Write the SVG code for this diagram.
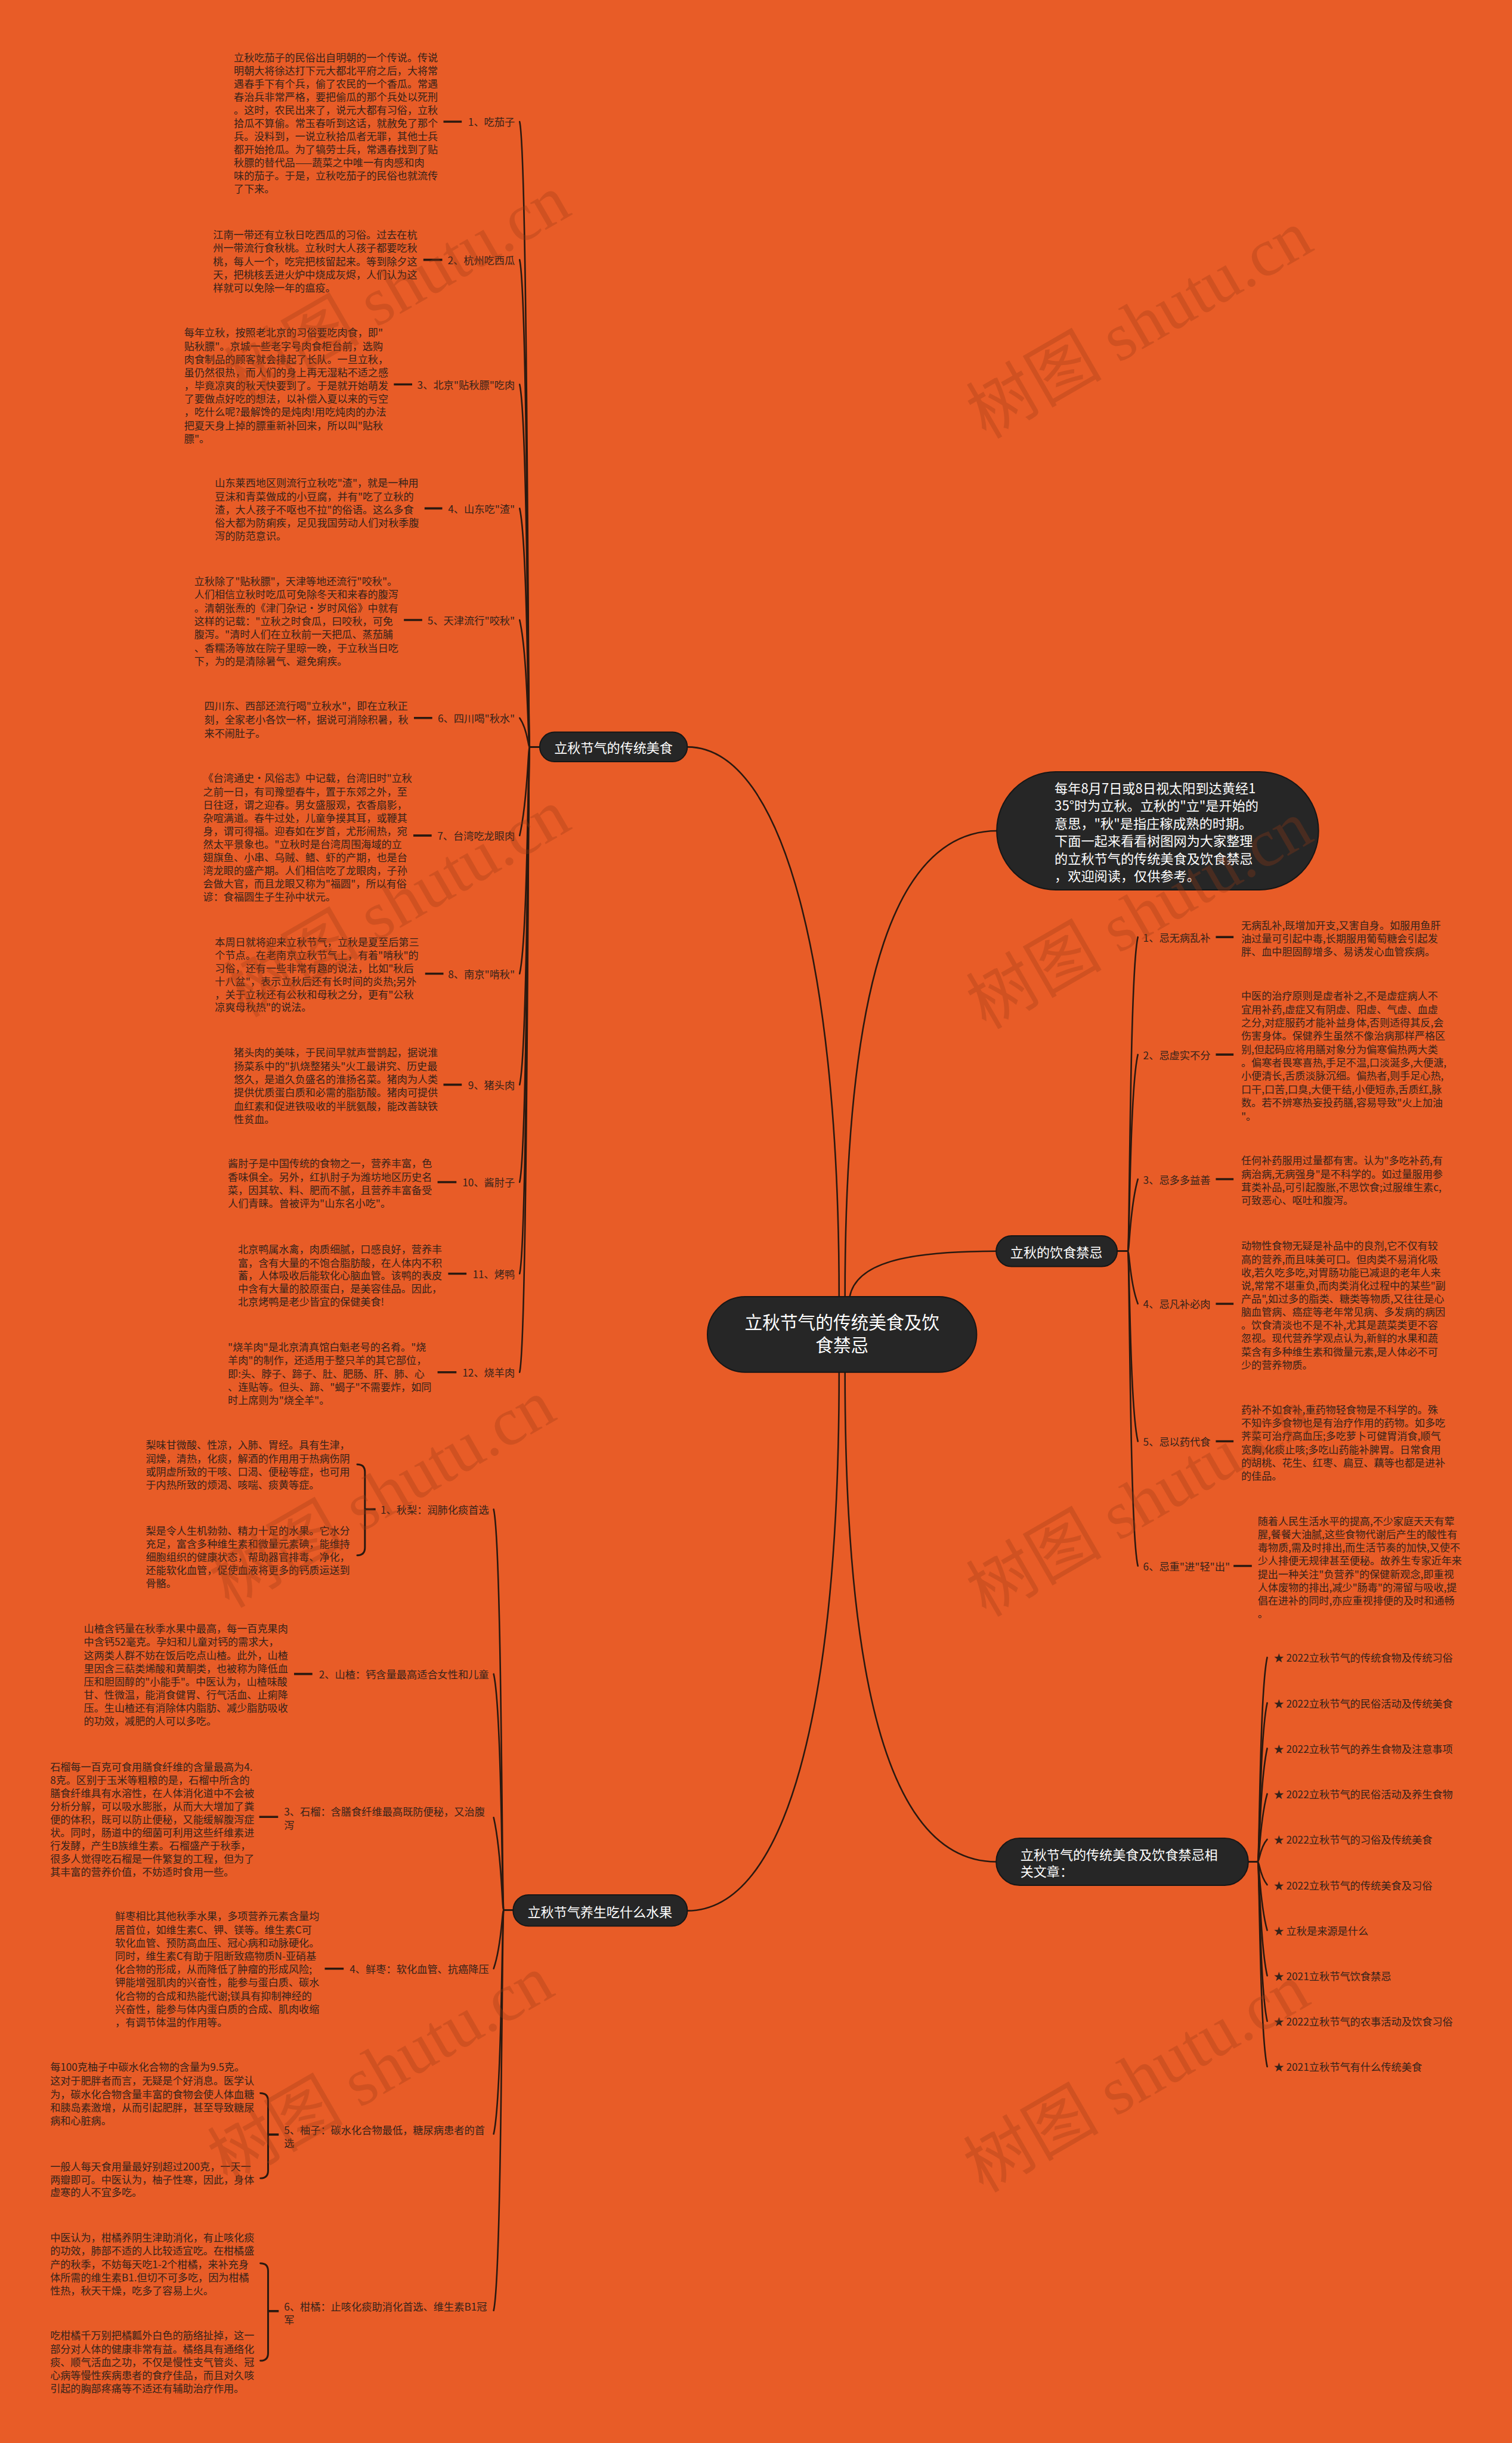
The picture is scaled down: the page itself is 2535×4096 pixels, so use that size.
<svg xmlns="http://www.w3.org/2000/svg" width="2535" height="4096" viewBox="0 0 2535 4096">
<defs><style>
.t{font-family:"Noto Sans CJK SC","Noto Sans",sans-serif;dominant-baseline:central}
.d{font-size:17.3px;fill:#35231a}
.l{font-size:17.4px;fill:#35231a}
.nd{fill:#262626;stroke:#161616;stroke-width:2}
.nt{fill:#ffffff;font-size:22.3px}
.c{fill:none;stroke:#2a1910;stroke-width:2.6;stroke-linecap:round}
.k{fill:none;stroke:#2a1910;stroke-width:3.6}
.r{text-anchor:end}
.m{text-anchor:middle}
.wm{font-family:"Liberation Serif","Noto Sans CJK SC",serif;font-size:115px;fill:#9a3a14;opacity:.3;text-anchor:middle;dominant-baseline:central}
</style></defs>
<rect x="0" y="0" width="2535" height="4096" fill="#E85C27"/>
<g transform="scale(0.99)">
<g id="connectors">
<path class="c" d="M1421,2196 C1421,1650 1330,1265 1164,1265"/>
<path class="c" d="M1431,2196 C1431,1650 1520,1407 1689,1407"/>
<path class="c" d="M1439,2196 C1450,2140 1530,2119 1687,2119"/>
<path class="c" d="M1431,2324 C1431,2900 1520,3153 1687,3153"/>
<path class="c" d="M1421,2324 C1421,2900 1330,3236 1164,3236"/>
<path class="c" d="M914,1265 L897,1265 C894,1265 894,266 880,206"/>
<path class="c" d="M914,1265 L897,1265 C894,1265 894,500 880,440"/>
<path class="c" d="M914,1265 L897,1265 C894,1265 894,711 880,651"/>
<path class="c" d="M914,1265 L897,1265 C894,1265 894,921 880,861"/>
<path class="c" d="M914,1265 L897,1265 C894,1265 894,1110 880,1050"/>
<path class="c" d="M914,1265 L897,1265 C894,1265 894,1236 880,1216"/>
<path class="c" d="M914,1265 L897,1265 C894,1265 894,1355 880,1415"/>
<path class="c" d="M914,1265 L897,1265 C894,1265 894,1589 880,1649"/>
<path class="c" d="M914,1265 L897,1265 C894,1265 894,1777 880,1837"/>
<path class="c" d="M914,1265 L897,1265 C894,1265 894,1942 880,2002"/>
<path class="c" d="M914,1265 L897,1265 C894,1265 894,2097 880,2157"/>
<path class="c" d="M914,1265 L897,1265 C894,1265 894,2264 880,2324"/>
<path class="c" d="M869,3235 L853,3235 C850,3235 850,2616 836,2556"/>
<path class="c" d="M869,3235 L853,3235 C850,3235 850,2895 836,2835"/>
<path class="c" d="M869,3235 L853,3235 C850,3235 850,3138 836,3078"/>
<path class="c" d="M869,3235 L853,3235 C850,3235 850,3294 836,3334"/>
<path class="c" d="M869,3235 L853,3235 C850,3235 850,3554 836,3614"/>
<path class="c" d="M869,3235 L853,3235 C850,3235 850,3853 836,3913"/>
<path class="c" d="M1892,2119 L1910,2119 C1913,2119 1913,1647 1927,1587"/>
<path class="c" d="M1892,2119 L1910,2119 C1913,2119 1913,1846 1927,1786"/>
<path class="c" d="M1892,2119 L1910,2119 C1913,2119 1913,2046 1927,1997"/>
<path class="c" d="M1892,2119 L1910,2119 C1913,2119 1913,2172 1927,2208"/>
<path class="c" d="M1892,2119 L1910,2119 C1913,2119 1913,2381 1927,2441"/>
<path class="c" d="M1892,2119 L1910,2119 C1913,2119 1913,2592 1927,2652"/>
<path class="c" d="M2114,3153 L2130,3153 C2133,3153 2133,2867 2146,2807"/>
<path class="c" d="M2114,3153 L2130,3153 C2133,3153 2133,2944 2146,2884"/>
<path class="c" d="M2114,3153 L2130,3153 C2133,3153 2133,3021 2146,2961"/>
<path class="c" d="M2114,3153 L2130,3153 C2133,3153 2133,3084 2146,3038"/>
<path class="c" d="M2114,3153 L2130,3153 C2133,3153 2133,3130 2146,3115"/>
<path class="c" d="M2114,3153 L2130,3153 C2133,3153 2133,3176 2146,3192"/>
<path class="c" d="M2114,3153 L2130,3153 C2133,3153 2133,3223 2146,3269"/>
<path class="c" d="M2114,3153 L2130,3153 C2133,3153 2133,3286 2146,3346"/>
<path class="c" d="M2114,3153 L2130,3153 C2133,3153 2133,3363 2146,3423"/>
<path class="c" d="M2114,3153 L2130,3153 C2133,3153 2133,3440 2146,3500"/>
<path class="k" d="M751,206 H782 M717,440 H749 M667,651 H698 M719,861 H749 M684,1050 H715 M701,1216 H732 M700,1415 H731 M720,1649 H751 M751,1837 H782 M741,2002 H773 M759,2157 H790 M741,2324 H773"/>
<path class="k" d="M498,2835 H529 M439,3077 H471 M550,3334 H582"/>
<path class="k" d="M2059,1587 H2089 M2059,1786 H2089 M2059,1997 H2089 M2059,2208 H2089 M2059,2441 H2089 M2089,2652 H2120"/>
<path class="c" style="stroke-width:3" d="M605,2480 Q618,2480 618,2493 L618,2621 Q618,2634 605,2634"/>
<path class="k" d="M618,2556 H636 M454,3615 H472 M454,3914 H472"/>
<path class="c" style="stroke-width:3" d="M441,3545 Q454,3545 454,3558 L454,3676 Q454,3689 441,3689"/>
<path class="c" style="stroke-width:3" d="M441,3833 Q454,3833 454,3846 L454,3985 Q454,3998 441,3998"/>
</g>

<g id="root"><rect class="nd" x="1198" y="2196" width="456" height="128" rx="64"/><text class="t nt m" style="font-size:30px"><tspan x="1426" y="2237">立秋节气的传统美食及饮</tspan><tspan x="1426" y="2276">食禁忌</tspan></text></g>

<g id="b-food"><rect class="nd" x="914" y="1240" width="250" height="50" rx="25"/><text class="t nt m" x="1039" y="1265">立秋节气的传统美食</text></g>

<g id="b1-1"><text class="t l r" x="872" y="206">1、吃茄子</text>
<text class="t d" x="396" y="96">立秋吃茄子的民俗出自明朝的一个传说。传说<tspan x="396" dy="22.2">明朝大将徐达打下元大都北平府之后，大将常</tspan><tspan x="396" dy="22.2">遇春手下有个兵，偷了农民的一个香瓜。常遇</tspan><tspan x="396" dy="22.2">春治兵非常严格，要把偷瓜的那个兵处以死刑</tspan><tspan x="396" dy="22.2">。这时，农民出来了，说元大都有习俗，立秋</tspan><tspan x="396" dy="22.2">拾瓜不算偷。常玉春听到这话，就赦免了那个</tspan><tspan x="396" dy="22.2">兵。没料到，一说立秋拾瓜者无罪，其他士兵</tspan><tspan x="396" dy="22.2">都开始抢瓜。为了犒劳士兵，常遇春找到了贴</tspan><tspan x="396" dy="22.2">秋膘的替代品——蔬菜之中唯一有肉感和肉</tspan><tspan x="396" dy="22.2">味的茄子。于是，立秋吃茄子的民俗也就流传</tspan><tspan x="396" dy="22.2">了下来。</tspan></text></g>

<g id="b1-2"><text class="t l r" x="872" y="440">2、杭州吃西瓜</text>
<text class="t d" x="361" y="396">江南一带还有立秋日吃西瓜的习俗。过去在杭<tspan x="361" dy="22.5">州一带流行食秋桃。立秋时大人孩子都要吃秋</tspan><tspan x="361" dy="22.5">桃，每人一个，吃完把核留起来。等到除夕这</tspan><tspan x="361" dy="22.5">天，把桃核丢进火炉中烧成灰烬，人们认为这</tspan><tspan x="361" dy="22.5">样就可以免除一年的瘟疫。</tspan></text></g>

<g id="b1-3"><text class="t l r" x="872" y="651">3、北京"贴秋膘"吃肉</text>
<text class="t d" x="312" y="562">每年立秋，按照老北京的习俗要吃肉食，即"<tspan x="312" dy="22.4">贴秋膘"。京城一些老字号肉食柜台前，选购</tspan><tspan x="312" dy="22.4">肉食制品的顾客就会排起了长队。一旦立秋，</tspan><tspan x="312" dy="22.4">虽仍然很热，而人们的身上再无湿粘不适之感</tspan><tspan x="312" dy="22.4">，毕竟凉爽的秋天快要到了。于是就开始萌发</tspan><tspan x="312" dy="22.4">了要做点好吃的想法，以补偿入夏以来的亏空</tspan><tspan x="312" dy="22.4">，吃什么呢?最解馋的是炖肉!用吃炖肉的办法</tspan><tspan x="312" dy="22.4">把夏天身上掉的膘重新补回来，所以叫"贴秋</tspan><tspan x="312" dy="22.4">膘"。</tspan></text></g>

<g id="b1-4"><text class="t l r" x="872" y="861">4、山东吃"渣"</text>
<text class="t d" x="364" y="817">山东莱西地区则流行立秋吃"渣"，就是一种用<tspan x="364" dy="22.3">豆沫和青菜做成的小豆腐，并有"吃了立秋的</tspan><tspan x="364" dy="22.3">渣，大人孩子不呕也不拉"的俗语。这么多食</tspan><tspan x="364" dy="22.3">俗大都为防痢疾，足见我国劳动人们对秋季腹</tspan><tspan x="364" dy="22.3">泻的防范意识。</tspan></text></g>

<g id="b1-5"><text class="t l r" x="872" y="1050">5、天津流行"咬秋"</text>
<text class="t d" x="329" y="983">立秋除了"贴秋膘"，天津等地还流行"咬秋"。<tspan x="329" dy="22.5">人们相信立秋时吃瓜可免除冬天和来春的腹泻</tspan><tspan x="329" dy="22.5">。清朝张焘的《津门杂记·岁时风俗》中就有</tspan><tspan x="329" dy="22.5">这样的记载："立秋之时食瓜，曰咬秋，可免</tspan><tspan x="329" dy="22.5">腹泻。"清时人们在立秋前一天把瓜、蒸茄脯</tspan><tspan x="329" dy="22.5">、香糯汤等放在院子里晾一晚，于立秋当日吃</tspan><tspan x="329" dy="22.5">下，为的是清除暑气、避免痢疾。</tspan></text></g>

<g id="b1-6"><text class="t l r" x="872" y="1216">6、四川喝"秋水"</text>
<text class="t d" x="346" y="1194">四川东、西部还流行喝"立秋水"，即在立秋正<tspan x="346" dy="23">刻，全家老小各饮一杯，据说可消除积暑，秋</tspan><tspan x="346" dy="23">来不闹肚子。</tspan></text></g>

<g id="b1-7"><text class="t l r" x="872" y="1415">7、台湾吃龙眼肉</text>
<text class="t d" x="344" y="1317">《台湾通史·风俗志》中记载，台湾旧时"立秋<tspan x="344" dy="22.2">之前一日，有司豫塑春牛，置于东郊之外，至</tspan><tspan x="344" dy="22.2">日往迓，谓之迎春。男女盛服观，衣香扇影，</tspan><tspan x="344" dy="22.2">杂喧满道。春牛过处，儿童争摸其耳，或鞭其</tspan><tspan x="344" dy="22.2">身，谓可得福。迎春如在岁首，尤形闹热，宛</tspan><tspan x="344" dy="22.2">然太平景象也。"立秋时是台湾周围海域的立</tspan><tspan x="344" dy="22.2">翅旗鱼、小串、乌贼、鳍、虾的产期，也是台</tspan><tspan x="344" dy="22.2">湾龙眼的盛产期。人们相信吃了龙眼肉，子孙</tspan><tspan x="344" dy="22.2">会做大官，而且龙眼又称为"福圆"，所以有俗</tspan><tspan x="344" dy="22.2">谚：食福圆生子生孙中状元。</tspan></text></g>

<g id="b1-8"><text class="t l r" x="872" y="1649">8、南京"啃秋"</text>
<text class="t d" x="364" y="1594">本周日就将迎来立秋节气，立秋是夏至后第三<tspan x="364" dy="22.1">个节点。在老南京立秋节气上，有着"啃秋"的</tspan><tspan x="364" dy="22.1">习俗，还有一些非常有趣的说法，比如"秋后</tspan><tspan x="364" dy="22.1">十八盆"，表示立秋后还有长时间的炎热;另外</tspan><tspan x="364" dy="22.1">，关于立秋还有公秋和母秋之分，更有"公秋</tspan><tspan x="364" dy="22.1">凉爽母秋热"的说法。</tspan></text></g>

<g id="b1-9"><text class="t l r" x="872" y="1837">9、猪头肉</text>
<text class="t d" x="396" y="1781">猪头肉的美味，于民间早就声誉鹊起，据说淮<tspan x="396" dy="22.6">扬菜系中的"扒烧整猪头"火工最讲究、历史最</tspan><tspan x="396" dy="22.6">悠久，是道久负盛名的淮扬名菜。猪肉为人类</tspan><tspan x="396" dy="22.6">提供优质蛋白质和必需的脂肪酸。猪肉可提供</tspan><tspan x="396" dy="22.6">血红素和促进铁吸收的半胱氨酸，能改善缺铁</tspan><tspan x="396" dy="22.6">性贫血。</tspan></text></g>

<g id="b1-10"><text class="t l r" x="872" y="2002">10、酱肘子</text>
<text class="t d" x="386" y="1969">酱肘子是中国传统的食物之一，营养丰富，色<tspan x="386" dy="22.6">香味俱全。另外，红扒肘子为潍坊地区历史名</tspan><tspan x="386" dy="22.6">菜，因其软、料、肥而不腻，且营养丰富备受</tspan><tspan x="386" dy="22.6">人们青睐。曾被评为"山东名小吃"。</tspan></text></g>

<g id="b1-11"><text class="t l r" x="872" y="2157">11、烤鸭</text>
<text class="t d" x="403" y="2115">北京鸭属水禽，肉质细腻，口感良好，营养丰<tspan x="403" dy="22">富，含有大量的不饱合脂肪酸，在人体内不积</tspan><tspan x="403" dy="22">蓄，人体吸收后能软化心脑血管。该鸭的表皮</tspan><tspan x="403" dy="22">中含有大量的胶原蛋白，是美容佳品。因此，</tspan><tspan x="403" dy="22">北京烤鸭是老少皆宜的保健美食!</tspan></text></g>

<g id="b1-12"><text class="t l r" x="872" y="2324">12、烧羊肉</text>
<text class="t d" x="386" y="2280">"烧羊肉"是北京清真馆白魁老号的名肴。"烧<tspan x="386" dy="22.5">羊肉"的制作，还适用于整只羊的其它部位，</tspan><tspan x="386" dy="22.5">即:头、脖子、蹄子、肚、肥肠、肝、肺、心</tspan><tspan x="386" dy="22.5">、连贴等。但头、蹄、"蝎子"不需要炸，如同</tspan><tspan x="386" dy="22.5">时上席则为"烧全羊"。</tspan></text></g>

<g id="b-fruit"><rect class="nd" x="869" y="3209" width="295" height="53" rx="26"/><text class="t nt m" x="1016" y="3236">立秋节气养生吃什么水果</text></g>

<g id="b2-1"><text class="t l r" x="828" y="2556">1、秋梨：润肺化痰首选</text>
<text class="t d" x="247" y="2446">梨味甘微酸、性凉，入肺、胃经。具有生津，<tspan x="247" dy="22.3">润燥，清热，化痰，解酒的作用用于热病伤阴</tspan><tspan x="247" dy="22.3">或阴虚所致的干咳、口渴、便秘等症，也可用</tspan><tspan x="247" dy="22.3">于内热所致的烦渴、咳喘、痰黄等症。</tspan></text>
<text class="t d" x="247" y="2591">梨是令人生机勃勃、精力十足的水果。它水分<tspan x="247" dy="22.3">充足，富含多种维生素和微量元素碘，能维持</tspan><tspan x="247" dy="22.3">细胞组织的健康状态，帮助器官排毒、净化，</tspan><tspan x="247" dy="22.3">还能软化血管，促使血液将更多的钙质运送到</tspan><tspan x="247" dy="22.3">骨骼。</tspan></text></g>

<g id="b2-2"><text class="t l r" x="828" y="2835">2、山楂：钙含量最高适合女性和儿童</text>
<text class="t d" x="142" y="2757">山楂含钙量在秋季水果中最高，每一百克果肉<tspan x="142" dy="22.3">中含钙52毫克。孕妇和儿童对钙的需求大，</tspan><tspan x="142" dy="22.3">这两类人群不妨在饭后吃点山楂。此外，山楂</tspan><tspan x="142" dy="22.3">里因含三萜类烯酸和黄酮类，也被称为降低血</tspan><tspan x="142" dy="22.3">压和胆固醇的"小能手"。中医认为，山楂味酸</tspan><tspan x="142" dy="22.3">甘、性微温，能消食健胃、行气活血、止痢降</tspan><tspan x="142" dy="22.3">压。生山楂还有消除体内脂肪、减少脂肪吸收</tspan><tspan x="142" dy="22.3">的功效，减肥的人可以多吃。</tspan></text></g>

<g id="b2-3"><text class="t l"><tspan x="481" y="3067">3、石榴：含膳食纤维最高既防便秘，又治腹</tspan><tspan x="481" y="3090">泻</tspan></text>
<text class="t d" x="85" y="2991">石榴每一百克可食用膳食纤维的含量最高为4.<tspan x="85" dy="22.25">8克。区别于玉米等粗粮的是，石榴中所含的</tspan><tspan x="85" dy="22.25">膳食纤维具有水溶性，在人体消化道中不会被</tspan><tspan x="85" dy="22.25">分析分解，可以吸水膨胀，从而大大增加了粪</tspan><tspan x="85" dy="22.25">便的体积，既可以防止便秘，又能缓解腹泻症</tspan><tspan x="85" dy="22.25">状。同时，肠道中的细菌可利用这些纤维素进</tspan><tspan x="85" dy="22.25">行发酵，产生B族维生素。石榴盛产于秋季，</tspan><tspan x="85" dy="22.25">很多人觉得吃石榴是一件繁复的工程，但为了</tspan><tspan x="85" dy="22.25">其丰富的营养价值，不妨适时食用一些。</tspan></text></g>

<g id="b2-4"><text class="t l r" x="828" y="3334">4、鲜枣：软化血管、抗癌降压</text>
<text class="t d" x="195" y="3244">鲜枣相比其他秋季水果，多项营养元素含量均<tspan x="195" dy="22.4">居首位，如维生素C、钾、镁等。维生素C可</tspan><tspan x="195" dy="22.4">软化血管、预防高血压、冠心病和动脉硬化。</tspan><tspan x="195" dy="22.4">同时，维生素C有助于阻断致癌物质N-亚硝基</tspan><tspan x="195" dy="22.4">化合物的形成，从而降低了肿瘤的形成风险;</tspan><tspan x="195" dy="22.4">钾能增强肌肉的兴奋性，能参与蛋白质、碳水</tspan><tspan x="195" dy="22.4">化合物的合成和热能代谢;镁具有抑制神经的</tspan><tspan x="195" dy="22.4">兴奋性，能参与体内蛋白质的合成、肌肉收缩</tspan><tspan x="195" dy="22.4">，有调节体温的作用等。</tspan></text></g>

<g id="b2-5"><text class="t l"><tspan x="481" y="3606">5、柚子：碳水化合物最低，糖尿病患者的首</tspan><tspan x="481" y="3628">选</tspan></text>
<text class="t d" x="85" y="3500">每100克柚子中碳水化合物的含量为9.5克。<tspan x="85" dy="22.5">这对于肥胖者而言，无疑是个好消息。医学认</tspan><tspan x="85" dy="22.5">为，碳水化合物含量丰富的食物会使人体血糖</tspan><tspan x="85" dy="22.5">和胰岛素激增，从而引起肥胖，甚至导致糖尿</tspan><tspan x="85" dy="22.5">病和心脏病。</tspan></text>
<text class="t d" x="85" y="3668">一般人每天食用量最好别超过200克，一天一<tspan x="85" dy="21.5">两瓣即可。中医认为，柚子性寒，因此，身体</tspan><tspan x="85" dy="21.5">虚寒的人不宜多吃。</tspan></text></g>

<g id="b2-6"><text class="t l"><tspan x="481" y="3905">6、柑橘：止咳化痰助消化首选、维生素B1冠</tspan><tspan x="481" y="3927">军</tspan></text>
<text class="t d" x="85" y="3788">中医认为，柑橘养阴生津助消化，有止咳化痰<tspan x="85" dy="22.5">的功效，肺部不适的人比较适宜吃。在柑橘盛</tspan><tspan x="85" dy="22.5">产的秋季，不妨每天吃1-2个柑橘，来补充身</tspan><tspan x="85" dy="22.5">体所需的维生素B1.但切不可多吃，因为柑橘</tspan><tspan x="85" dy="22.5">性热，秋天干燥，吃多了容易上火。</tspan></text>
<text class="t d" x="85" y="3954">吃柑橘千万别把橘瓤外白色的筋络扯掉，这一<tspan x="85" dy="22.3">部分对人体的健康非常有益。橘络具有通络化</tspan><tspan x="85" dy="22.3">痰、顺气活血之功，不仅是慢性支气管炎、冠</tspan><tspan x="85" dy="22.3">心病等慢性疾病患者的食疗佳品，而且对久咳</tspan><tspan x="85" dy="22.3">引起的胸部疼痛等不适还有辅助治疗作用。</tspan></text></g>

<g id="intro"><rect class="nd" x="1688" y="1307" width="545" height="200" rx="100"/><text class="t nt" style="font-size:22.4px" x="1786" y="1333">每年8月7日或8日视太阳到达黄经1<tspan x="1786" dy="29.8">35°时为立秋。立秋的"立"是开始的</tspan><tspan x="1786" dy="29.8">意思，"秋"是指庄稼成熟的时期。</tspan><tspan x="1786" dy="29.8">下面一起来看看树图网为大家整理</tspan><tspan x="1786" dy="29.8">的立秋节气的传统美食及饮食禁忌</tspan><tspan x="1786" dy="29.8">，欢迎阅读，仅供参考。</tspan></text></g>

<g id="b-taboo"><rect class="nd" x="1687" y="2093" width="205" height="52" rx="26"/><text class="t nt m" x="1789" y="2119">立秋的饮食禁忌</text></g>

<g id="r-1"><text class="t l" x="1936" y="1587">1、忌无病乱补</text>
<text class="t d" x="2102" y="1566">无病乱补,既增加开支,又害自身。如服用鱼肝<tspan x="2102" dy="22">油过量可引起中毒,长期服用葡萄糖会引起发</tspan><tspan x="2102" dy="22">胖、血中胆固醇增多、易诱发心血管疾病。</tspan></text></g>

<g id="r-2"><text class="t l" x="1936" y="1786">2、忌虚实不分</text>
<text class="t d" x="2102" y="1685">中医的治疗原则是虚者补之,不是虚症病人不<tspan x="2102" dy="22.6">宜用补药,虚症又有阴虚、阳虚、气虚、血虚</tspan><tspan x="2102" dy="22.6">之分,对症服药才能补益身体,否则适得其反,会</tspan><tspan x="2102" dy="22.6">伤害身体。保健养生虽然不像治病那样严格区</tspan><tspan x="2102" dy="22.6">别,但起码应将用膳对象分为偏寒偏热两大类</tspan><tspan x="2102" dy="22.6">。偏寒者畏寒喜热,手足不温,口淡涎多,大便溏,</tspan><tspan x="2102" dy="22.6">小便清长,舌质淡脉沉细。偏热者,则手足心热,</tspan><tspan x="2102" dy="22.6">口干,口苦,口臭,大便干结,小便短赤,舌质红,脉</tspan><tspan x="2102" dy="22.6">数。若不辨寒热妄投药膳,容易导致"火上加油</tspan><tspan x="2102" dy="22.6">"。</tspan></text></g>

<g id="r-3"><text class="t l" x="1936" y="1997">3、忌多多益善</text>
<text class="t d" x="2102" y="1964">任何补药服用过量都有害。认为"多吃补药,有<tspan x="2102" dy="22.4">病治病,无病强身"是不科学的。如过量服用参</tspan><tspan x="2102" dy="22.4">茸类补品,可引起腹胀,不思饮食;过服维生素c,</tspan><tspan x="2102" dy="22.4">可致恶心、呕吐和腹泻。</tspan></text></g>

<g id="r-4"><text class="t l" x="1936" y="2208">4、忌凡补必肉</text>
<text class="t d" x="2102" y="2109">动物性食物无疑是补品中的良剂,它不仅有较<tspan x="2102" dy="22.3">高的营养,而且味美可口。但肉类不易消化吸</tspan><tspan x="2102" dy="22.3">收,若久吃多吃,对胃肠功能已减退的老年人来</tspan><tspan x="2102" dy="22.3">说,常常不堪重负,而肉类消化过程中的某些"副</tspan><tspan x="2102" dy="22.3">产品",如过多的脂类、糖类等物质,又往往是心</tspan><tspan x="2102" dy="22.3">脑血管病、癌症等老年常见病、多发病的病因</tspan><tspan x="2102" dy="22.3">。饮食清淡也不是不补,尤其是蔬菜类更不容</tspan><tspan x="2102" dy="22.3">忽视。现代营养学观点认为,新鲜的水果和蔬</tspan><tspan x="2102" dy="22.3">菜含有多种维生素和微量元素,是人体必不可</tspan><tspan x="2102" dy="22.3">少的营养物质。</tspan></text></g>

<g id="r-5"><text class="t l" x="1936" y="2441">5、忌以药代食</text>
<text class="t d" x="2102" y="2386">药补不如食补,重药物轻食物是不科学的。殊<tspan x="2102" dy="22.4">不知许多食物也是有治疗作用的药物。如多吃</tspan><tspan x="2102" dy="22.4">荠菜可治疗高血压;多吃萝卜可健胃消食,顺气</tspan><tspan x="2102" dy="22.4">宽胸,化痰止咳;多吃山药能补脾胃。日常食用</tspan><tspan x="2102" dy="22.4">的胡桃、花生、红枣、扁豆、藕等也都是进补</tspan><tspan x="2102" dy="22.4">的佳品。</tspan></text></g>

<g id="r-6"><text class="t l" x="1936" y="2652">6、忌重"进"轻"出"</text>
<text class="t d" x="2130" y="2575">随着人民生活水平的提高,不少家庭天天有荤<tspan x="2130" dy="22.3">腥,餐餐大油腻,这些食物代谢后产生的酸性有</tspan><tspan x="2130" dy="22.3">毒物质,需及时排出,而生活节奏的加快,又使不</tspan><tspan x="2130" dy="22.3">少人排便无规律甚至便秘。故养生专家近年来</tspan><tspan x="2130" dy="22.3">提出一种关注"负营养"的保健新观念,即重视</tspan><tspan x="2130" dy="22.3">人体废物的排出,减少"肠毒"的滞留与吸收,提</tspan><tspan x="2130" dy="22.3">倡在进补的同时,亦应重视排便的及时和通畅</tspan><tspan x="2130" dy="22.3">。</tspan></text></g>

<g id="b-related"><rect class="nd" x="1687" y="3113" width="427" height="80" rx="40"/><text class="t nt" x="1728" y="3139">立秋节气的传统美食及饮食禁忌相<tspan x="1728" dy="29">关文章：</tspan></text></g>

<g id="articles">
<text class="t l" x="2157" y="2807">★ 2022立秋节气的传统食物及传统习俗</text>
<text class="t l" x="2157" y="2884">★ 2022立秋节气的民俗活动及传统美食</text>
<text class="t l" x="2157" y="2961">★ 2022立秋节气的养生食物及注意事项</text>
<text class="t l" x="2157" y="3038">★ 2022立秋节气的民俗活动及养生食物</text>
<text class="t l" x="2157" y="3115">★ 2022立秋节气的习俗及传统美食</text>
<text class="t l" x="2157" y="3192">★ 2022立秋节气的传统美食及习俗</text>
<text class="t l" x="2157" y="3269">★ 立秋是来源是什么</text>
<text class="t l" x="2157" y="3346">★ 2021立秋节气饮食禁忌</text>
<text class="t l" x="2157" y="3423">★ 2022立秋节气的农事活动及饮食习俗</text>
<text class="t l" x="2157" y="3500">★ 2021立秋节气有什么传统美食</text>
</g>

<g id="watermarks">
<text class="wm" transform="translate(673,490) rotate(-30)">树图 shutu.cn</text>
<text class="wm" transform="translate(1930,550) rotate(-30)">树图 shutu.cn</text>
<text class="wm" transform="translate(673,1530) rotate(-30)">树图 shutu.cn</text>
<text class="wm" transform="translate(1930,1550) rotate(-30)">树图 shutu.cn</text>
<text class="wm" transform="translate(648,2530) rotate(-30)">树图 shutu.cn</text>
<text class="wm" transform="translate(1930,2545) rotate(-30)">树图 shutu.cn</text>
<text class="wm" transform="translate(645,3505) rotate(-30)">树图 shutu.cn</text>
<text class="wm" transform="translate(1925,3520) rotate(-30)">树图 shutu.cn</text>
</g>
</g>
</svg>
